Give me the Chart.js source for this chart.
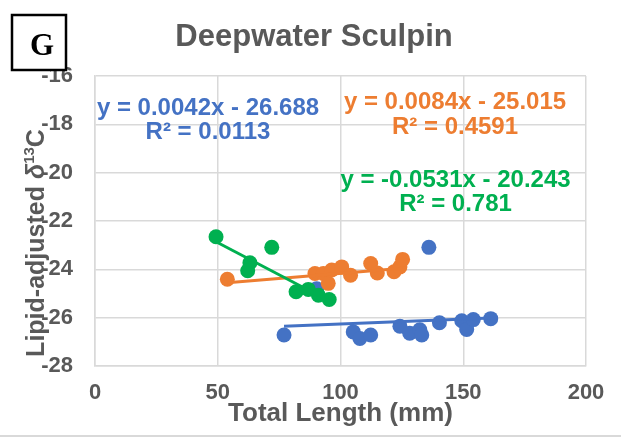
<!DOCTYPE html>
<html>
<head>
<meta charset="utf-8">
<script src="https://cdn.jsdelivr.net/npm/chart.js@4.4.0/dist/chart.umd.min.js"></script>
<style>
    html, body { margin: 0; padding: 0; background: #ffffff; }
</style>
</head>
<body>
<canvas id="chart" width="621" height="444"></canvas>
<script>
// values
const blueX = [77.0, 90.3, 105.2, 107.9, 112.3, 124.2, 128.2, 132.3, 133.1, 136.0, 140.3, 149.4, 151.4, 154.1, 161.2];
const blueY = [-26.72, -24.80, -26.59, -26.86, -26.72, -26.35, -26.64, -26.50, -26.72, -23.09, -26.21, -26.13, -26.49, -26.08, -26.04];

const orangeX = [53.9, 89.6, 93.0, 95.0, 96.4, 100.5, 104.1, 112.3, 115.0, 121.8, 124.2, 125.3];
const orangeY = [-24.41, -24.17, -24.17, -24.58, -24.03, -23.90, -24.24, -23.76, -24.15, -24.10, -23.90, -23.59];

const greenX = [49.3, 72.0, 63.1, 62.2, 81.9, 86.9, 91.0, 95.4];
const greenY = [-22.65, -23.09, -23.73, -24.06, -24.93, -24.83, -25.07, -25.25];

// trendline ends (Excel draws them from the first to the last x of each series)
const blueTrendX = [77.0, 161.2];
const blueTrendY = [-26.36, -26.01];
const orangeTrendX = [53.9, 125.3];
const orangeTrendY = [-24.56, -23.96];
const greenTrendX = [49.3, 95.4];
const greenTrendY = [-22.86, -25.31];

const xTicks = [0, 50, 100, 150, 200];
const yTicks = [-28, -26, -24, -22, -20, -18, -16];

const blueEq = ['y = 0.0042x - 26.688', 'R² = 0.0113'];
const orangeEq = ['y = 0.0084x - 25.015', 'R² = 0.4591'];
const greenEq = ['y = -0.0531x - 20.243', 'R² = 0.781'];

const BLUE = '#4472C4';
const ORANGE = '#ED7D31';
const GREEN = '#00B050';
const GREY = '#595959';
const GRID = '#d9d9d9';
const FONT = "'Liberation Sans', Arial, sans-serif";

function toPoints(xs, ys) {
    return xs.map((x, i) => ({ x: x, y: ys[i] }));
}

function trend(xs, ys, color, order) {
    return {
        type: 'line',
        data: toPoints(xs, ys),
        borderColor: color,
        borderWidth: 3,
        pointRadius: 0,
        fill: false,
        order: order
    };
}

function dots(xs, ys, color, order) {
    return {
        type: 'scatter',
        data: toPoints(xs, ys),
        backgroundColor: color,
        borderWidth: 0,
        pointRadius: 7.5,
        pointHoverRadius: 7.5,
        order: order
    };
}

// extra text: panel letter, title, y title, equations, bottom rule
const extras = {
    id: 'extras',
    afterDraw(chart) {
        const ctx = chart.ctx;
        ctx.save();

        // bottom rule of the chart area
        ctx.fillStyle = GRID;
        ctx.fillRect(0, 435, 621, 2);

        // title
        ctx.fillStyle = GREY;
        ctx.font = 'bold 31px ' + FONT;
        ctx.textAlign = 'center';
        ctx.textBaseline = 'alphabetic';
        ctx.fillText('Deepwater Sculpin', 314, 46);

        // equations
        ctx.font = 'bold 24px ' + FONT;
        const eq = (lines, color, x, y1, y2) => {
            ctx.fillStyle = color;
            ctx.fillText(lines[0], x, y1);
            ctx.fillText(lines[1], x, y2);
        };
        eq(blueEq, BLUE, 208, 115, 138.5);
        eq(orangeEq, ORANGE, 455, 108.5, 133.5);
        eq(greenEq, GREEN, 455.5, 186.5, 210.5);

        // y axis title, rotated, with italic delta and superscript 13
        const parts = [
            { t: 'Lipid-adjusted ', f: 'bold 25px ' + FONT, dy: 0 },
            { t: 'δ', f: 'italic bold 25px ' + FONT, dy: 0 },
            { t: '13', f: 'bold 15px ' + FONT, dy: -10 },
            { t: 'C', f: 'bold 25px ' + FONT, dy: 0 }
        ];
        let total = 0;
        parts.forEach(p => {
            ctx.font = p.f;
            p.w = ctx.measureText(p.t).width;
            total += p.w;
        });
        ctx.translate(44, 243);
        ctx.rotate(-Math.PI / 2);
        ctx.textAlign = 'left';
        ctx.fillStyle = GREY;
        let cx = -total / 2;
        parts.forEach(p => {
            ctx.font = p.f;
            ctx.fillText(p.t, cx, p.dy);
            cx += p.w;
        });
        ctx.setTransform(1, 0, 0, 1, 0, 0);

        // panel letter box
        ctx.fillStyle = '#ffffff';
        ctx.fillRect(12, 15, 54, 55);
        ctx.strokeStyle = '#000000';
        ctx.lineWidth = 2.5;
        ctx.strokeRect(12, 15, 54, 55);
        ctx.fillStyle = '#000000';
        ctx.font = "bold 31px 'Liberation Serif', 'Times New Roman', serif";
        ctx.textAlign = 'center';
        ctx.fillText('G', 42, 55);

        ctx.restore();
    }
};

const ctx = document.getElementById('chart').getContext('2d');
new Chart(ctx, {
    type: 'scatter',
    data: {
        datasets: [
            trend(greenTrendX, greenTrendY, GREEN, 0),
            trend(orangeTrendX, orangeTrendY, ORANGE, 1),
            trend(blueTrendX, blueTrendY, BLUE, 2),
            dots(greenX, greenY, GREEN, 3),
            dots(orangeX, orangeY, ORANGE, 4),
            dots(blueX, blueY, BLUE, 5)
        ]
    },
    options: {
        responsive: false,
        animation: false,
        layout: { padding: { top: 76, right: 35, left: 0, bottom: 0 } },
        plugins: {
            legend: { display: false },
            tooltip: { enabled: false }
        },
        scales: {
            x: {
                type: 'linear',
                min: xTicks[0],
                max: xTicks[xTicks.length - 1],
                afterBuildTicks: axis => { axis.ticks = xTicks.map(v => ({ value: v })); },
                afterFit: axis => { axis.height = 78; },
                grid: { color: GRID, lineWidth: 1.5, drawTicks: false },
                border: { color: GRID, width: 1.5 },
                ticks: {
                    padding: 14,
                    color: GREY,
                    font: { family: FONT, size: 22, weight: 'bold' }
                },
                title: {
                    display: true,
                    text: 'Total Length (mm)',
                    color: GREY,
                    font: { family: FONT, size: 26, weight: 'bold' },
                    padding: { top: 0, bottom: 15 }
                }
            },
            y: {
                type: 'linear',
                min: yTicks[0],
                max: yTicks[yTicks.length - 1],
                afterBuildTicks: axis => { axis.ticks = yTicks.map(v => ({ value: v })); },
                afterFit: axis => { axis.width = 95; },
                grid: { color: GRID, lineWidth: 1.5, drawTicks: false },
                border: { color: GRID, width: 1.5 },
                ticks: {
                    padding: 22,
                    color: GREY,
                    font: { family: FONT, size: 22, weight: 'bold' }
                }
            }
        }
    },
    plugins: [extras]
});
</script>
</body>
</html>
